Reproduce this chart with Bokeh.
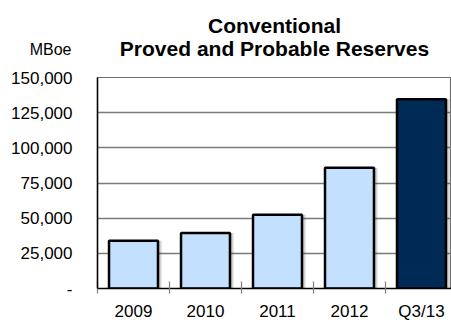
from bokeh.plotting import figure
from bokeh.models import Range1d, FixedTicker, Label, ColumnDataSource
from bokeh.embed import file_html
from bokeh.resources import INLINE

categories = ["2009", "2010", "2011", "2012", "Q3/13"]
reserves = [34000, 39500, 52400, 85900, 134500]
bar_colors = ["#C4E0FF", "#C4E0FF", "#C4E0FF", "#C4E0FF", "#002A56"]
y_ticks = [0, 25000, 50000, 75000, 100000, 125000, 150000]
y_labels = ["-", "25,000", "50,000", "75,000", "100,000", "125,000", "150,000"]

FONT = "Liberation Sans"

xs = [i + 0.5 for i in range(len(categories))]
src = ColumnDataSource(dict(x=xs, top=reserves, color=bar_colors,
                            xs1=[x + 0.045 for x in xs], xs2=[x + 0.025 for x in xs]))

p = figure(width=451, height=323, output_backend="svg", toolbar_location=None,
           x_range=Range1d(0, 4.917), y_range=Range1d(0, 150000),
           min_border_left=97, min_border_right=0, min_border_top=77, min_border_bottom=34)
p.background_fill_color = "white"
p.border_fill_color = "white"
p.outline_line_color = "#707070"
p.outline_line_width = 1.2

p.xgrid.grid_line_color = None
p.ygrid.grid_line_color = "#7A7A7A"
p.ygrid.grid_line_width = 1.5
p.ygrid.ticker = FixedTicker(ticks=y_ticks)

p.vbar(x="xs1", top="top", width=0.70, bottom=0, source=src, fill_color="black",
       fill_alpha=0.10, line_color=None)
p.vbar(x="xs2", top="top", width=0.70, bottom=0, source=src, fill_color="black",
       fill_alpha=0.15, line_color=None)
p.vbar(x="x", top="top", width=0.68, bottom=0, source=src, fill_color="color",
       line_color="black", line_width=2.5)

p.yaxis.ticker = FixedTicker(ticks=y_ticks)
p.yaxis.major_label_overrides = {t: l for t, l in zip(y_ticks, y_labels)}
p.yaxis.major_tick_line_color = None
p.yaxis.major_tick_out = 0
p.yaxis.major_tick_in = 0
p.yaxis.minor_tick_line_color = None
p.yaxis.minor_tick_out = 0
p.yaxis.axis_line_color = "black"
p.yaxis.axis_line_width = 1.5
p.yaxis.major_label_standoff = 25
p.yaxis.major_label_text_font = FONT
p.yaxis.major_label_text_font_size = "17px"
p.yaxis.major_label_text_color = "black"

p.xaxis.ticker = FixedTicker(ticks=xs, minor_ticks=list(range(len(categories) + 1)))
p.xaxis.major_label_overrides = {x: c for x, c in zip(xs, categories)}
p.xaxis.major_tick_line_color = None
p.xaxis.major_tick_out = 0
p.xaxis.major_tick_in = 0
p.xaxis.minor_tick_line_color = "#808080"
p.xaxis.minor_tick_line_width = 1.2
p.xaxis.minor_tick_in = 7
p.xaxis.minor_tick_out = 5
p.xaxis.axis_line_color = "black"
p.xaxis.axis_line_width = 1.5
p.xaxis.major_label_standoff = 8
p.xaxis.major_label_text_font = FONT
p.xaxis.major_label_text_font_size = "17px"
p.xaxis.major_label_text_color = "black"

# titles as labels in the "above" panel, in canvas pixel units
for txt, yy in [("Conventional", 25), ("Proved and Probable Reserves", 48)]:
    p.add_layout(Label(x=274, y=yy, x_units="canvas", y_units="canvas", text=txt,
                       text_font=FONT, text_font_style="bold", text_font_size="21px",
                       text_align="center", text_baseline="middle", text_color="black"),
                 "above")
p.add_layout(Label(x=71, y=49, x_units="canvas", y_units="canvas", text="MBoe",
                   text_font=FONT, text_font_size="16px", text_align="right",
                   text_baseline="middle", text_color="black"), "above")

open("out.html", "w").write(file_html(p, INLINE))
